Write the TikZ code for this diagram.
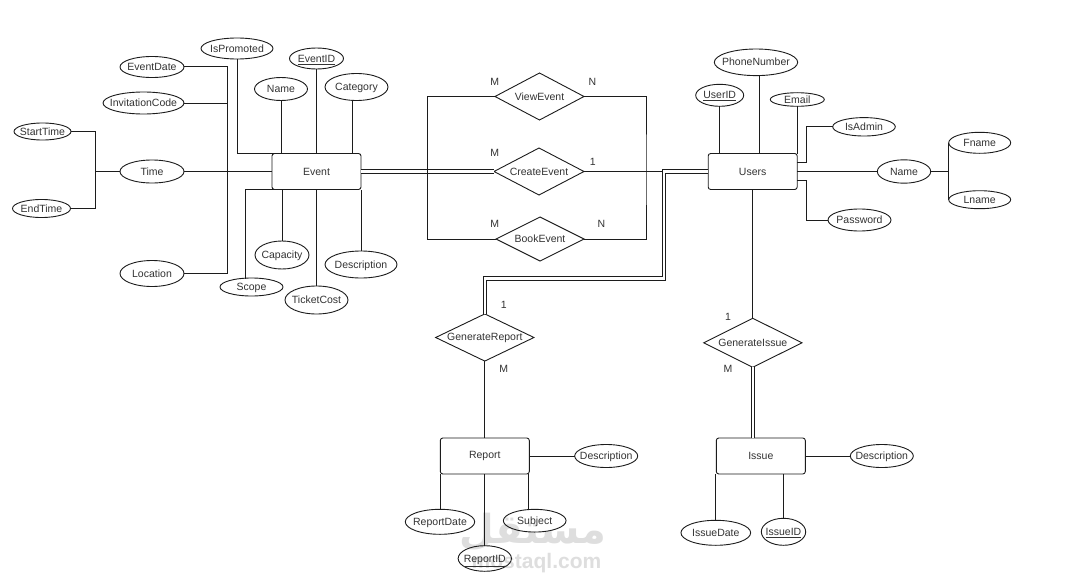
\documentclass[tikz,border=0pt]{standalone}
\usepackage{fontspec}
\setmainfont{Liberation Sans}
\newfontfamily\arabicfont[Script=Arabic]{DejaVu Sans}
\TeXXeTstate=1
\usetikzlibrary{shapes.geometric,calc}
\definecolor{ink}{HTML}{1C1C1C}
\definecolor{txt}{HTML}{333333}
\tikzset{
  every node/.style={text=txt,font=\fontsize{10.5}{12}\selectfont,inner sep=0pt,outer sep=0pt},
  attr/.style={ellipse,draw=ink,line width=0.9pt,fill=none},
  entity/.style={rectangle,rounded corners=2.5pt,draw=ink,line width=0.9pt,minimum width=89pt,minimum height=36pt},
  rel/.style={diamond,aspect=2,draw=ink,line width=0.9pt},
  lnk/.style={draw=ink,line width=1pt},
  dbl/.style={draw=ink,line width=1pt,double=white,double distance=2.4pt},
  card/.style={text=txt},
  wm/.style={text=black!13}
}
\newcommand{\att}[6]{\node[attr,minimum width=#3pt,minimum height=#4pt] (#1) at (#5,#6) {\raisebox{-3.7pt}[0pt][0pt]{\makebox[0pt]{#2}}};}
\begin{document}
\begin{tikzpicture}[x=1pt,y=-1pt]
\useasboundingbox (0,0) rectangle (1071,586);
\fill[white] (0,0) rectangle (1071,586);
% watermark
\node[wm,font=\arabicfont\bfseries\fontsize{40}{40}\selectfont] (wmar) at (533,532) {\beginR مستقل\endR};
\node[wm,font=\bfseries\fontsize{21}{21}\selectfont] (wmen) at (536.5,563) {mostaql.com};
% entities
\node[entity] (event) at (316.5,171.5) {Event};
\node[entity] (users) at (752.7,171.5) {Users};
\node[entity] (report) at (484.8,456) {Report};
\node[entity] (issue) at (760.8,456) {Issue};
% relationships
\node[rel,minimum width=89pt,minimum height=47pt] (view) at (539.5,96.5) {ViewEvent};
\node[rel,minimum width=90pt,minimum height=47pt] (create) at (539,171.5) {CreateEvent};
\node[rel,minimum width=88pt,minimum height=44pt] (book) at (540,239) {BookEvent};
\node[rel,minimum width=98.3pt,minimum height=47pt] (genrep) at (484.8,337.5) {GenerateReport};
\node[rel,minimum width=98.3pt,minimum height=49pt] (geniss) at (752.8,342.8) {GenerateIssue};
% Event attributes
\att{ispromoted}{IsPromoted}{72}{21}{237}{48.5}
\att{eventid}{\underline{EventID}}{54}{21}{316.5}{58.5}
\att{ename}{Name}{53}{23}{281}{89}
\att{category}{Category}{63}{27}{356.5}{87}
\att{eventdate}{EventDate}{64}{21}{152}{67}
\att{invcode}{InvitationCode}{81}{22}{143.5}{103}
\att{starttime}{StartTime}{57}{17}{42.5}{131.5}
\att{time}{Time}{64}{23}{152}{171.5}
\att{endtime}{EndTime}{58}{18}{41.5}{208.5}
\att{location}{Location}{64}{26}{152}{273.5}
\att{scope}{Scope}{63}{18}{251.5}{287}
\att{capacity}{Capacity}{54}{28}{282}{255}
\att{ticketcost}{TicketCost}{63}{28}{316.5}{300}
\att{edesc}{Description}{72}{27}{361}{264.5}
% Users attributes
\att{phone}{PhoneNumber}{83.4}{26.6}{756}{62.3}
\att{userid}{\underline{UserID}}{48}{22}{719.7}{95.3}
\att{email}{Email}{54}{13.6}{797.3}{99.5}
\att{isadmin}{IsAdmin}{62.6}{18.4}{864}{126.8}
\att{uname}{Name}{53.4}{23.4}{904}{171.5}
\att{fname}{Fname}{62}{21}{979.7}{142.8}
\att{lname}{Lname}{62}{18}{979.7}{199.7}
\att{password}{Password}{63}{22}{859.5}{220}
% Report attributes
\att{rdesc}{Description}{63}{23}{606.2}{456}
\att{rdate}{ReportDate}{69.4}{25}{440}{521.8}
\att{subject}{Subject}{62.7}{22.7}{534.7}{520.7}
\att{reportid}{\underline{ReportID}}{53.3}{25.6}{484.8}{558.5}
% Issue attributes
\att{idesc}{Description}{63}{23}{881.8}{456}
\att{idate}{IssueDate}{69.7}{25}{715.8}{532.8}
\att{issueid}{\underline{IssueID}}{44.4}{27}{783.5}{531.8}
% bend coordinates
\coordinate (ev1) at (227.5,67);
\coordinate (ev2) at (227.5,273.5);
\coordinate (tm) at (95.5,171.5);
\coordinate (lx) at (427.7,171.5);
\coordinate (rx) at (646,171.5);
\coordinate (ub1) at (664,171.5);
\coordinate (ub2) at (664,278.5);
\coordinate (ub3) at (484.8,278.5);
\coordinate (ad) at (806,162.3);
\coordinate (pw) at (806,180.3);
\coordinate (nm) at (948.5,171.5);
\coordinate (phx) at (759,75.4);
% Event connectors
\draw[lnk] (ispromoted.south) |- ($(event.north west)+(1.5,0)$);
\draw[lnk] (ename.south) -- (ename.south |- event.north);
\draw[lnk] (eventid.south) -- (eventid.south |- event.north);
\draw[lnk] ($(category.south)+(-4.5,-0.5)$) -- ($(category.south |- event.north)+(-4.5,0)$);
\draw[lnk] (eventdate.east) -- (ev1) -- (ev2) -- (location.east);
\draw[lnk] (invcode.east) -- (invcode.east -| ev1);
\draw[lnk] (time.east) -- (event.west);
\draw[lnk] (time.west) -- (tm);
\draw[lnk] (starttime.east) -| (tm) |- (endtime.east);
\draw[lnk] ($(scope.north)+(-6,0.6)$) |- ($(event.south west)+(1.5,0)$);
\draw[lnk] (capacity.north) -- (capacity.north |- event.south);
\draw[lnk] (ticketcost.north) -- (ticketcost.north |- event.south);
\draw[lnk] (edesc.north) -- (edesc.north |- event.south);
% relationships
\draw[dbl] (event.east) -- (create.west);
\draw[lnk] (view.west) -| (lx) |- (book.west);
\draw[lnk] (view.east) -| (rx) |- (book.east);
\draw[lnk] (create.east) -- (ub1);
\draw[dbl] (users.west) -- (ub1) -- (ub2) -- (ub3) -- (genrep.north);
\draw[lnk] (geniss.north) -- (geniss.north |- users.south);
\draw[lnk] (genrep.south) -- (report.north);
\draw[dbl] (geniss.south) -- (geniss.south |- issue.north);
% Users connectors
\draw[lnk] (phx) -- (phx |- users.north);
\draw[lnk] (userid.south) -- (userid.south |- users.north);
\draw[lnk] (email.south) -- (email.south |- users.north);
\draw[lnk] (isadmin.west) -| (ad) -- (ad -| users.east);
\draw[lnk] (users.east) -- (uname.west);
\draw[lnk,line width=1.6pt] (uname.east) -- (nm);
\draw[lnk] (fname.west) -- (lname.west);
\draw[lnk] (password.west) -| (pw) -- (pw -| users.east);
% Report connectors
\draw[lnk] (report.east) -- (rdesc.west);
\draw[lnk] (rdate.north) -- (rdate.north |- report.south);
\draw[lnk] ($(subject.north)+(-6.4,0.5)$) -- ($(subject.north |- report.south)+(-6.4,0)$);
\draw[lnk] (reportid.north) -- (report.south);
% Issue connectors
\draw[lnk] (issue.east) -- (idesc.west);
\draw[lnk] (idate.north) -- (idate.north |- issue.south);
\draw[lnk] (issueid.north) -- (issueid.north |- issue.south);
% cardinalities
\node[card] (c1) at (494.7,81.7) {M};
\node[card] (c2) at (592.3,81.7) {N};
\node[card] (c3) at (494.7,153) {M};
\node[card] (c4) at (592.7,162) {1};
\node[card] (c5) at (494.7,224) {M};
\node[card] (c6) at (601.3,224) {N};
\node[card] (c7) at (503.7,304.7) {1};
\node[card] (c8) at (503.7,369.3) {M};
\node[card] (c9) at (728,317.3) {1};
\node[card] (c10) at (728,369.3) {M};
\end{tikzpicture}
\end{document}
